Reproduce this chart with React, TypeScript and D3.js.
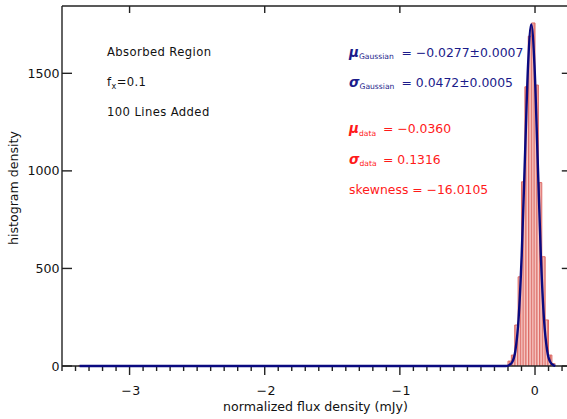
import React from "react";
import * as d3 from "d3";

// ---- data ----
const histEdges = [-3.38, -0.2, -0.175, -0.15, -0.125, -0.1, -0.075, -0.05, -0.025, 0, 0.025, 0.05, 0.075, 0.1, 0.125, 0.15];
const histCounts = [1, 25, 56, 210, 457, 944, 1431, 1690, 1758, 1440, 940, 560, 236, 56, 12];

const gaussX = [-3.37, -0.2165, -0.1929, -0.1693, -0.1457, -0.1221, -0.0985, -0.0749, -0.0513, -0.0277, -0.0041, 0.0195, 0.0431, 0.0667, 0.0903, 0.1139, 0.1375, 0.15];
const gaussY = [0, 0, 4, 19, 77, 237, 568, 1061, 1544, 1750, 1544, 1061, 568, 237, 77, 19, 4, 0];

const xMajorTicks = [-3, -2, -1, 0];
const xTickLabels = ["\u22123", "\u22122", "\u22121", "0"];
const yMajorTicks = [0, 500, 1000, 1500];
const yTickLabels = ["0", "500", "1000", "1500"];

const infoLines = ["Absorbed Region", "100 Lines Added"];
const gaussStats = [
  { sym: "\u03bc", sub: "Gaussian", val: "= \u22120.0277\u00b10.0007" },
  { sym: "\u03c3", sub: "Gaussian", val: "= 0.0472\u00b10.0005" },
];
const dataStats = [
  { sym: "\u03bc", sub: "data", val: "= \u22120.0360" },
  { sym: "\u03c3", sub: "data", val: "= 0.1316" },
];
const skewLabel = "skewness = \u221216.0105";

// ---- layout ----
const W = 567, H = 419;
const X0 = 62, X1 = 568.8, Y0 = 366, Y1 = 6;
const FONT = "DejaVu Sans, Verdana, sans-serif";
const NAVY = "#1b1b8a";
const RED = "#ff1a1a";
const HRED = "#dc6a64";

export default function App() {
  const x = d3.scaleLinear().domain([-3.5, 0.25]).range([X0, X1]);
  const y = d3.scaleLinear().domain([0, 1845]).range([Y0, Y1]);

  const histPts: [number, number][] = histEdges.map((e, i) => [e, histCounts[Math.min(i, histCounts.length - 1)]]);
  const area = d3.area<[number, number]>().curve(d3.curveStepAfter).x(d => x(d[0])).y0(y(0)).y1(d => y(d[1]));
  const outline = d3.line<[number, number]>().curve(d3.curveStepAfter).x(d => x(d[0])).y(d => y(d[1]));

  const gPts: [number, number][] = gaussX.map((v, i) => [v, gaussY[i]]);
  const gLine = d3.line<[number, number]>().curve(d3.curveMonotoneX).x(d => x(d[0])).y(d => y(d[1]));

  const minor = d3.range(-35, 3).map(k => k / 10).filter(v => Math.abs(v - Math.round(v)) > 1e-6);

  return (
    <svg width={W} height={H} style={{ position: "absolute", left: 0, top: 0, background: "#fff" }} fontFamily={FONT}>
      <defs>
        <pattern id="hatch" patternUnits="userSpaceOnUse" width={2.75} height={10}>
          <rect width={2.75} height={10} fill="#f8cfcb" />
          <rect width={1.3} height={10} fill={HRED} />
        </pattern>
        <clipPath id="plotclip"><rect x={X0} y={Y1} width={X1 - X0} height={Y0 - Y1 + 2} /></clipPath>
      </defs>
      <rect width={W} height={H} fill="#fff" />

      {/* histogram */}
      <g clipPath="url(#plotclip)">
        <path d={area(histPts) || ""} fill="url(#hatch)" />
        <path d={outline(histPts) || ""} fill="none" stroke={HRED} strokeWidth={1} />
      </g>

      {/* axes frame */}
      <g stroke="#222" strokeWidth={1.4} fill="none">
        <line x1={X0} y1={Y1} x2={X0} y2={Y0} />
        <line x1={X0} y1={Y0} x2={X1} y2={Y0} />
        <line x1={X0} y1={Y1} x2={X1} y2={Y1} />
        <line x1={X1} y1={Y1} x2={X1} y2={Y0} />
        {xMajorTicks.map(t => (
          <g key={"xt" + t}>
            <line x1={x(t)} x2={x(t)} y1={Y0} y2={Y0 + 9} />
            <line x1={x(t)} x2={x(t)} y1={Y1} y2={Y1 + 7} />
          </g>
        ))}
        {minor.map(t => (
          <line key={"xm" + t} x1={x(t)} x2={x(t)} y1={Y0} y2={Y0 + 5} />
        ))}
        {yMajorTicks.map(t => (
          <g key={"yt" + t}>
            <line x1={X0} x2={X0 + 10} y1={y(t)} y2={y(t)} />
            <line x1={X1} x2={X1 - 7} y1={y(t)} y2={y(t)} />
          </g>
        ))}
      </g>

      {/* gaussian fit */}
      <path d={gLine(gPts) || ""} fill="none" stroke="#0a0a80" strokeWidth={2.4} strokeLinejoin="round" />

      {/* tick labels */}
      <g fontSize={12.6} fill="#111">
        {xMajorTicks.map((t, i) => (
          <text key={"xl" + t} x={x(t) + (t < 0 ? 1.5 : 0)} y={395} textAnchor="middle" letterSpacing={0.5}>{xTickLabels[i]}</text>
        ))}
        {yMajorTicks.map((t, i) => (
          <text key={"yl" + t} x={59.5} y={y(t) + 4.5} textAnchor="end">{yTickLabels[i]}</text>
        ))}
        <text x={(X0 + X1) / 2} y={411} textAnchor="middle">normalized flux density (mJy)</text>
        <text transform={`translate(17.5,188) rotate(-90)`} textAnchor="middle">histogram density</text>
      </g>

      {/* info text */}
      <g fontSize={11.6} fill="#111" letterSpacing={0.4}>
        <text x={107} y={56}>{infoLines[0]}</text>
        <text x={107} y={86}>f<tspan fontSize={8} dy={2.5}>x</tspan><tspan dy={-2.5}>=0.1</tspan></text>
        <text x={107} y={116}>{infoLines[1]}</text>
      </g>

      {/* stats */}
      <g fontSize={12.4}>
        {gaussStats.map((s, i) => (
          <text key={"gs" + i} x={349} y={56.5 + i * 30} fill={NAVY}>
            <tspan fontStyle="italic" fontWeight="bold" fontSize={13.5}>{s.sym}</tspan>
            <tspan fontSize={7.6} dy={2.5}>{s.sub}</tspan>
            <tspan x={401.5} dy={-2.5}>{s.val}</tspan>
          </text>
        ))}
        {dataStats.map((s, i) => (
          <text key={"ds" + i} x={349} y={133 + i * 30.5} fill={RED}>
            <tspan fontStyle="italic" fontWeight="bold" fontSize={13.5}>{s.sym}</tspan>
            <tspan fontSize={7.6} dy={2.5}>{s.sub}</tspan>
            <tspan x={383} dy={-2.5}>{s.val}</tspan>
          </text>
        ))}
        <text x={349} y={194} fill={RED}>{skewLabel}</text>
      </g>
    </svg>
  );
}
